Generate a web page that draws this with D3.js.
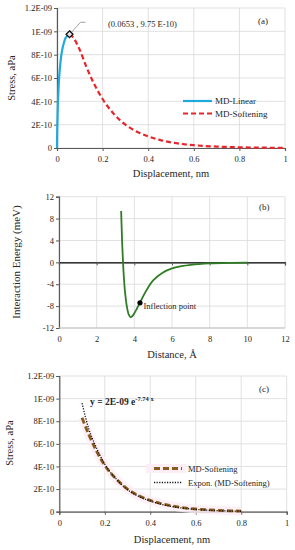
<!DOCTYPE html>
<html><head><meta charset="utf-8">
<script src="https://cdn.jsdelivr.net/npm/d3@7"></script>
<style>
html,body{margin:0;padding:0;background:#fff;}
svg{display:block;}
svg text{font-family:"Liberation Serif","Times New Roman",serif !important;}
</style></head>
<body><svg id="c" width="295" height="550"></svg>
<script>
// ---------- DATA ----------
// Panel (a)
const aLinearX = [0, 0.001, 0.003, 0.006, 0.01, 0.015, 0.02, 0.03, 0.04, 0.055];
const aLinearY = [0, 1.5e-10, 3.2e-10, 4.8e-10, 6.2e-10, 7.3e-10, 8.1e-10, 9.0e-10, 9.5e-10, 9.75e-10];
const aSoftX = [0.055, 0.07, 0.1, 0.13, 0.16, 0.2, 0.25, 0.3, 0.35, 0.4, 0.45, 0.5, 0.55, 0.6, 0.65, 0.7, 0.8, 0.9, 1.0];
const aSoftY = [9.75e-10, 9.5e-10, 8.4e-10, 6.9e-10, 5.6e-10, 4.2e-10, 2.9e-10, 2.0e-10, 1.4e-10, 1.0e-10, 7.0e-11, 4.8e-11, 3.4e-11, 2.4e-11, 1.7e-11, 1.2e-11, 6e-12, 3e-12, 1e-12];
const aPeak = [0.055, 9.75e-10];
const aPeakLabel = "(0.0653 , 9.75 E-10)";
const aXTicks = [0, 0.2, 0.4, 0.6, 0.8, 1];
const aYTicks = [0, 2e-10, 4e-10, 6e-10, 8e-10, 1e-9, 1.2e-9];
const aYTickLabels = ["0", "2E-10", "4E-10", "6E-10", "8E-10", "1E-09", "1.2E-09"];
const aLegend = ["MD-Linear", "MD-Softening"];

// Panel (b)
const bX = [3.3, 3.33, 3.36, 3.4, 3.45, 3.5, 3.6, 3.7, 3.8, 3.9, 4.0, 4.1, 4.2, 4.3, 4.5, 4.75, 5.0, 5.5, 6.0, 6.5, 7.0, 8.0, 9.0, 10.0];
const bY = [9.4, 6.0, 3.0, 0, -3.0, -5.2, -8.0, -9.5, -10.0, -9.8, -9.3, -8.7, -8.0, -7.4, -6.0, -4.5, -3.3, -1.9, -1.1, -0.7, -0.45, -0.2, -0.09, -0.05];
const bInflect = [4.3, -7.4];
const bXTicks = [0, 2, 4, 6, 8, 10, 12];
const bYTicks = [-12, -8, -4, 0, 4, 8, 12];

// Panel (c)
const cSoftX = [0.1, 0.13, 0.16, 0.2, 0.25, 0.3, 0.35, 0.4, 0.45, 0.5, 0.55, 0.6, 0.65, 0.7, 0.75, 0.8];
const cSoftY = [8.3e-10, 6.8e-10, 5.5e-10, 4.1e-10, 2.9e-10, 2.0e-10, 1.4e-10, 1.0e-10, 7.0e-11, 4.9e-11, 3.4e-11, 2.4e-11, 1.7e-11, 1.2e-11, 8e-12, 5e-12];
const cExpX = [0.1, 0.13, 0.16, 0.2, 0.25, 0.3, 0.35, 0.4, 0.45, 0.5, 0.55, 0.6, 0.65, 0.7, 0.75, 0.8];
const cExpY = [9.6e-10, 7.3e-10, 5.8e-10, 4.2e-10, 2.9e-10, 1.95e-10, 1.35e-10, 9.5e-11, 6.5e-11, 4.4e-11, 3.0e-11, 2.0e-11, 1.35e-11, 9e-12, 6e-12, 4e-12];
const cXTicks = [0, 0.2, 0.4, 0.6, 0.8, 1];
const cYTicks = aYTicks;
const cYTickLabels = aYTickLabels;
const cLegend = ["MD-Softening", "Expon. (MD-Softening)"];

// ---------- DRAW ----------
const svg = d3.select("#c").attr("font-family", "'Liberation Serif', serif");
const GRID = "#d9d9d9", AXIS = "#595959", TXT = "#262626";
const tickFont = 8.5, titleFont = 10.5;

function grid(g, x, y, xt, yt) {
  g.selectAll(null).data(xt).enter().append("line")
    .attr("x1", d => x(d)).attr("x2", d => x(d))
    .attr("y1", y.range()[0]).attr("y2", y.range()[1])
    .attr("stroke", GRID).attr("stroke-width", 0.8);
  g.selectAll(null).data(yt).enter().append("line")
    .attr("x1", x.range()[0]).attr("x2", x.range()[1])
    .attr("y1", d => y(d)).attr("y2", d => y(d))
    .attr("stroke", GRID).attr("stroke-width", 0.8);
}
function axes(g, x, y, xt, yt, ylabels, xAxisY, xfmt) {
  const xa = g.append("g").attr("transform", `translate(0,${xAxisY})`)
    .call(d3.axisBottom(x).tickValues(xt).tickSize(3).tickPadding(5).tickFormat(xfmt));
  const ya = g.append("g").attr("transform", `translate(${x.range()[0]},0)`)
    .call(d3.axisLeft(y).tickValues(yt).tickSize(3).tickPadding(2)
      .tickFormat((d, i) => ylabels ? ylabels[i] : String(d)));
  [xa, ya].forEach(a => {
    a.attr("font-family", "'Liberation Serif', serif");
    a.select(".domain").attr("stroke", AXIS).attr("stroke-width", 1.2);
    a.selectAll(".tick line").attr("stroke", AXIS);
    a.selectAll(".tick text").attr("fill", TXT).attr("font-size", tickFont);
  });
  return [xa, ya];
}

// ---- Panel (a)
{
  const g = svg.append("g");
  const x = d3.scaleLinear().domain([0, 1]).range([57, 285]);
  const y = d3.scaleLinear().domain([0, 1.2e-9]).range([148, 8]);
  grid(g, x, y, aXTicks, aYTicks);
  axes(g, x, y, aXTicks, aYTicks, aYTickLabels, y(0), d => String(d));
  const line = d3.line().x(d => x(d[0])).y(d => y(d[1])).curve(d3.curveMonotoneX);
  const lin = aLinearX.map((v, i) => [v, aLinearY[i]]);
  const lineL = d3.line().x(d => x(d[0])).y(d => y(d[1])).curve(d3.curveMonotoneY);
  g.append("path").attr("d", lineL(lin)).attr("fill", "none").attr("stroke", "#1fa9dc").attr("stroke-width", 2.2);
  const soft = aSoftX.map((v, i) => [v, aSoftY[i]]);
  g.append("path").attr("d", line(soft)).attr("fill", "none").attr("stroke", "#e8252b")
    .attr("stroke-width", 2.2).attr("stroke-dasharray", "5,3");
  // peak marker + leader
  const px = x(aPeak[0]), py = y(aPeak[1]);
  g.append("polyline").attr("points", `${px + 2},${py - 2} ${px + 11},${py - 12} ${px + 16},${py - 12}`)
    .attr("fill", "none").attr("stroke", "#8c8c8c").attr("stroke-width", 0.8);
  g.append("path").attr("d", d3.symbol(d3.symbolDiamond2, 30)()).attr("transform", `translate(${px},${py})`)
    .attr("fill", "#e6e6e6").attr("stroke", "#111").attr("stroke-width", 1.3);
  g.append("text").attr("x", 108).attr("y", 27).attr("font-size", 8.5).attr("fill", TXT).text(aPeakLabel);
  g.append("text").attr("x", 258).attr("y", 24).attr("font-size", 9).attr("fill", TXT).text("(a)");
  // legend
  const lc = ["#1fa9dc", "#e8252b"];
  aLegend.forEach((t, i) => {
    const ly = 101 + i * 12.5;
    g.append("line").attr("x1", 183).attr("x2", 212).attr("y1", ly).attr("y2", ly).attr("stroke", lc[i])
      .attr("stroke-width", 2.2).attr("stroke-dasharray", i ? "5,3" : null);
    g.append("text").attr("x", 215).attr("y", ly + 3).attr("font-size", 9).attr("fill", TXT).text(t);
  });
  g.append("text").attr("x", 171).attr("y", 177).attr("text-anchor", "middle").attr("font-size", titleFont).attr("fill", TXT).text("Displacement, nm");
  g.append("text").attr("transform", "translate(15,78) rotate(-90)").attr("text-anchor", "middle").attr("font-size", titleFont).attr("fill", TXT).text("Stress, aPa");
}

// ---- Panel (b)
{
  const g = svg.append("g");
  const x = d3.scaleLinear().domain([0, 12]).range([59, 285]);
  const y = d3.scaleLinear().domain([-12, 12]).range([328, 196.7]);
  grid(g, x, y, bXTicks, bYTicks);
  const [xa, ya] = axes(g, x, y, bXTicks, bYTicks, null, y(0), d => String(d));
  xa.select(".domain").attr("stroke", "#000").attr("stroke-width", 1.2);
  xa.selectAll(".tick text").attr("transform", `translate(0,${y(-12) - y(0)})`);
  g.append("line").attr("x1", x(0)).attr("x2", x(12)).attr("y1", y(-12)).attr("y2", y(-12)).attr("stroke", "#bfbfbf").attr("stroke-width", 1);
  const line = d3.line().x(d => x(d[0])).y(d => y(d[1])).curve(d3.curveCatmullRom.alpha(0.5));
  g.append("path").attr("d", line(bX.map((v, i) => [v, bY[i]]))).attr("fill", "none")
    .attr("stroke", "#2f7d24").attr("stroke-width", 1.8);
  g.append("circle").attr("cx", x(bInflect[0])).attr("cy", y(bInflect[1])).attr("r", 2.6).attr("fill", "#000");
  g.append("text").attr("x", x(bInflect[0]) + 3.5).attr("y", y(bInflect[1]) + 6).attr("font-size", 8.5).attr("fill", TXT).text("Inflection point");
  g.append("text").attr("x", 259).attr("y", 210).attr("font-size", 9).attr("fill", TXT).text("(b)");
  g.append("text").attr("x", 172).attr("y", 358).attr("text-anchor", "middle").attr("font-size", titleFont).attr("fill", TXT).text("Distance, Å");
  g.append("text").attr("transform", "translate(20,262) rotate(-90)").attr("text-anchor", "middle").attr("font-size", 11).attr("fill", TXT).text("Interaction Energy (meV)");
}

// ---- Panel (c)
{
  const g = svg.append("g");
  const x = d3.scaleLinear().domain([0, 1]).range([59.3, 286.7]);
  const y = d3.scaleLinear().domain([0, 1.2e-9]).range([511.7, 376]);
  grid(g, x, y, cXTicks, cYTicks);
  axes(g, x, y, cXTicks, cYTicks, cYTickLabels, y(0), d => String(d));
  const line = d3.line().x(d => x(d[0])).y(d => y(d[1])).curve(d3.curveMonotoneX);
  const soft = cSoftX.map((v, i) => [v, cSoftY[i]]);
  g.append("path").attr("d", line(soft)).attr("fill", "none").attr("stroke", "#fdeef5").attr("stroke-width", 9).attr("opacity", 0.8);
  g.append("rect").attr("x", 146).attr("y", 464).attr("width", 40).attr("height", 9).attr("fill", "#fdeef5");
  g.append("path").attr("d", line(soft)).attr("fill", "none").attr("stroke", "#8a5a1e")
    .attr("stroke-width", 2.8).attr("stroke-dasharray", "6,3");
  g.append("path").attr("d", line(cExpX.map((v, i) => [v, cExpY[i]]))).attr("fill", "none")
    .attr("stroke", "#111").attr("stroke-width", 1.3).attr("stroke-dasharray", "1.2,1.4");
  const eq = g.append("text").attr("x", 90).attr("y", 405).attr("font-size", 9.5).attr("fill", TXT).attr("font-weight", "bold");
  eq.append("tspan").text("y = 2E-09 e");
  eq.append("tspan").attr("font-size", 6.5).attr("dy", -4).text("-7.74 x");
  g.append("text").attr("x", 259).attr("y", 392).attr("font-size", 9).attr("fill", TXT).text("(c)");
  const styles = [{c: "#8a5a1e", w: 2.8, d: "6,3"}, {c: "#111", w: 1.3, d: "1.2,1.4"}];
  cLegend.forEach((t, i) => {
    const ly = 468.5 + i * 14;
    g.append("line").attr("x1", 154).attr("x2", 182).attr("y1", ly).attr("y2", ly).attr("stroke", styles[i].c)
      .attr("stroke-width", styles[i].w).attr("stroke-dasharray", styles[i].d);
    g.append("text").attr("x", 188).attr("y", ly + 3).attr("font-size", 8.5).attr("fill", TXT).text(t);
  });
  g.append("text").attr("x", 172).attr("y", 543).attr("text-anchor", "middle").attr("font-size", titleFont).attr("fill", TXT).text("Displacement, nm");
  g.append("text").attr("transform", "translate(13,443) rotate(-90)").attr("text-anchor", "middle").attr("font-size", titleFont).attr("fill", TXT).text("Stress, aPa");
}
</script></body></html>
